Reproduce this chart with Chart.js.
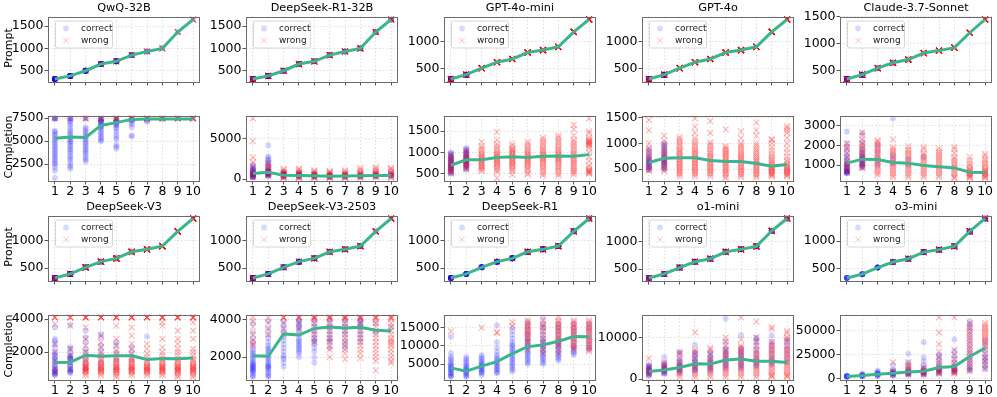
<!DOCTYPE html>
<html>
<head>
<meta charset="utf-8">
<script src="https://cdn.jsdelivr.net/npm/chart.js@4.4.0/dist/chart.umd.min.js"></script>
<style>
  body { margin: 0; background: #fff; width: 997px; height: 397px; overflow: hidden; position: relative; font-family: 'DejaVu Sans', sans-serif; }
  canvas { position: absolute; }
  .title { position: absolute; font-size: 11.3px; color: #000; white-space: nowrap; transform: translate(-50%, -50%); }
  .ylab { position: absolute; font-size: 11px; color: #000; white-space: nowrap; transform: translate(-50%, -50%) rotate(-90deg); }
</style>
</head>
<body>
<script>
// x categories (difficulty level)
const levels = [1, 2, 3, 4, 5, 6, 7, 8, 9, 10];

// ---- QwQ-32B ----
const qwqPrompt = [320, 390, 505, 655, 715, 855, 935, 1005, 1370, 1650];
const qwqMean = [5300, 5450, 5400, 6700, 7000, 7350, 7400, 7400, 7400, 7400];
const qwqCorrect = [
  [7450, 7450, 7450, 7450, 6100, 6000, 5800, 5600, 5400, 5200, 5000, 4800, 4600, 4400, 4200, 4000, 3800, 3600, 3400, 3200, 3000, 2800, 2600, 2400, 2100, 1800, 1000],
  [7450, 7450, 7450, 7200, 7000, 6800, 6500, 6200, 6000, 5800, 5600, 5400, 5200, 5000, 4900, 4700, 4500, 4300, 4100, 3900, 3700, 3400, 3200, 3000, 2700, 2400, 2200, 2000],
  [7450, 7450, 6500, 6300, 6100, 5900, 5700, 5500, 5300, 5100, 4900, 4700, 4500, 4300, 4100, 3900, 3700, 3500, 3200, 3000, 2800],
  [7450, 7450, 7400, 7300, 7200, 7100, 7000, 6900, 6800, 6700, 6600, 6500, 6300, 6100, 5900, 5700, 5500, 5300, 5100, 5000],
  [7450, 7400, 7300, 7200, 7100, 7000, 6900, 6800, 6700, 6500, 6300, 6000, 5700, 5400, 5200, 4600, 4400, 4200],
  [7450, 7400, 7300, 7200, 7000, 6800, 6500, 5600, 5500],
  [7450, 7400, 7200, 7100],
  [7450, 7400],
  [7450],
  [7450]
];
const qwqWrong = [
  [7450], [7450], [7450, 7450], [7450, 7450, 7450], [7450, 7450, 7450, 7450],
  [7450, 7450, 7450, 7450], [7450, 7450, 7450, 7450], [7450, 7450, 7450, 7450],
  [7450, 7450, 7450, 7450], [7450, 7450, 7450, 7450]
];
const qwqPromptTicks = [500, 1000, 1500];
const qwqCompTicks = [2500, 5000, 7500];

// ---- DeepSeek-R1-32B ----
const r132Prompt = [320, 390, 505, 655, 715, 855, 935, 1005, 1370, 1650];
const r132Mean = [700, 850, 500, 450, 420, 380, 400, 420, 450, 460];
const r132Correct = [
  [1800, 1600, 1400, 1300, 1200, 1100, 1000, 900, 800, 700, 650, 600, 550, 500, 450, 400, 350, 300, 250, 200],
  [4200, 2800, 2600, 2400, 2200, 2000, 1800, 1600, 1400, 1200, 1100, 1000, 950, 900, 850, 800, 750, 700, 650, 600, 550, 500, 450, 400],
  [900, 800, 700, 650, 600, 550, 500, 450, 400, 350, 300],
  [800, 700, 600, 550, 500, 450, 400, 350, 300],
  [700, 600, 500, 450, 400, 350, 300],
  [600, 500, 450, 400, 350, 300, 250],
  [600, 500, 450, 400, 350, 300],
  [600, 500, 450, 400, 350, 300],
  [700, 600, 500, 450, 400, 350],
  [700, 600, 500, 450, 400]
];
const r132Wrong = [
  [7500, 4700, 2700, 2100, 1500, 1200, 900, 700, 500, 400, 300],
  [2000, 1800, 1500, 1300, 1100, 950, 850, 750, 650, 550, 450],
  [1300, 1100, 950, 800, 700, 600, 500, 400, 300, 200, 150],
  [1300, 1200, 1000, 850, 700, 600, 500, 400, 300, 200, 150],
  [1100, 950, 850, 700, 600, 500, 400, 300, 200, 150],
  [1000, 900, 800, 700, 600, 500, 400, 300, 200, 150],
  [1100, 950, 800, 700, 600, 500, 400, 300, 200, 150],
  [1400, 1200, 1000, 850, 700, 600, 500, 400, 300, 200],
  [1500, 1300, 1100, 950, 800, 650, 550, 450, 350, 250],
  [1400, 1300, 1100, 900, 750, 600, 500, 400, 300, 200]
];
const r132PromptTicks = [500, 1000, 1500];
const r132CompTicks = [0, 5000];

// ---- GPT-4o-mini ----
const miniPrompt = [310, 390, 510, 620, 680, 800, 845, 905, 1180, 1410];
const miniMean = [700, 830, 830, 880, 900, 880, 910, 920, 910, 950];
const miniCorrect = [
  [1000, 980, 950, 920, 900, 880, 860, 840, 820, 800, 780, 760, 740, 720, 700, 680, 660, 640, 620, 600, 580, 560, 540, 520, 500],
  [1100, 1080, 1050, 1020, 1000, 970, 950, 920, 900, 880, 860, 840, 820, 800, 780, 760, 740, 720, 700, 680, 650, 620, 600],
  [], [], [], [], [], [], [], []
];
const miniWrong = [
  [950, 900, 860, 820, 780, 750, 720, 690, 660, 630, 600, 570, 540, 510],
  [1050, 1000, 960, 920, 880, 850, 820, 790, 760, 730, 700, 670, 640, 610],
  [1250, 1150, 1100, 1050, 1000, 960, 930, 900, 870, 840, 810, 780, 750, 720, 690, 660, 630, 600, 560],
  [1480, 1300, 1200, 1150, 1100, 1050, 1000, 970, 940, 910, 880, 850, 820, 790, 760, 730, 700, 660, 620, 580, 540, 400],
  [1200, 1150, 1100, 1070, 1040, 1010, 980, 950, 920, 890, 860, 830, 800, 770, 740, 710, 680, 640, 600, 560, 480],
  [1250, 1200, 1150, 1100, 1060, 1020, 980, 950, 920, 890, 860, 830, 800, 770, 740, 700, 660, 620, 580, 520, 480],
  [1350, 1300, 1250, 1200, 1150, 1100, 1060, 1020, 980, 950, 920, 890, 860, 830, 800, 760, 720, 680, 640, 600, 550, 500, 450],
  [1400, 1350, 1300, 1250, 1200, 1150, 1100, 1060, 1020, 980, 950, 920, 890, 860, 830, 800, 760, 720, 680, 640, 600, 550, 500, 450],
  [1650, 1550, 1400, 1300, 1250, 1200, 1150, 1100, 1050, 1000, 960, 920, 880, 840, 800, 760, 720, 680, 640, 600, 560, 520, 480],
  [1800, 1500, 1450, 1350, 1300, 1280, 1260, 1240, 1220, 1200, 1180, 1150, 1100, 1000, 900, 800, 700, 650, 600, 580, 560, 540, 520, 500]
];
const miniPromptTicks = [500, 1000];
const miniCompTicks = [500, 1000, 1500];

// ---- GPT-4o ----
const gpt4oPrompt = [310, 390, 510, 620, 680, 800, 845, 905, 1180, 1410];
const gpt4oMean = [630, 710, 720, 720, 670, 650, 650, 610, 560, 590];
const gpt4oCorrect = [
  [900, 850, 800, 760, 720, 700, 680, 660, 640, 620, 600, 580, 560, 540, 520, 500, 480],
  [1000, 970, 940, 900, 870, 840, 810, 780, 750, 720, 700, 680, 660, 640, 620, 600, 580, 550, 520, 500],
  [], [], [], [], [], [], [], []
];
const gpt4oWrong = [
  [1450, 1250, 1000, 900, 850, 800, 750, 700, 650, 600, 550, 500, 470],
  [1150, 1050, 980, 920, 870, 820, 780, 740, 700, 660, 620, 580, 540, 500, 460],
  [1120, 1080, 1040, 1000, 960, 920, 880, 850, 820, 790, 760, 730, 700, 670, 640, 610, 580, 550, 520, 490, 460, 430, 400, 360],
  [1480, 1320, 1200, 1100, 1050, 1000, 960, 920, 880, 850, 820, 790, 760, 730, 700, 670, 640, 610, 580, 550, 520, 490, 460, 430, 400, 360],
  [1430, 1200, 1020, 980, 940, 900, 860, 820, 790, 760, 730, 700, 670, 640, 610, 580, 550, 520, 490, 460, 430, 400, 360],
  [1270, 940, 910, 880, 850, 820, 790, 760, 730, 700, 670, 640, 610, 580, 550, 520, 490, 460, 430, 400, 360, 330],
  [1230, 1100, 1000, 960, 920, 880, 840, 800, 770, 740, 710, 680, 650, 620, 590, 560, 530, 500, 470, 440, 410, 380, 350],
  [1400, 1250, 1150, 1000, 950, 900, 860, 820, 780, 740, 700, 670, 640, 610, 580, 550, 520, 490, 460, 430, 400, 370, 340],
  [1080, 1060, 1000, 920, 860, 800, 760, 720, 680, 650, 620, 590, 560, 540, 520, 500, 480, 460, 440, 420, 400, 380, 360],
  [1330, 1300, 1250, 1200, 1100, 1000, 900, 820, 740, 680, 640, 600, 570, 540, 520, 500, 480, 460, 440, 420, 400, 380, 360]
];
const gpt4oPromptTicks = [500, 1000];
const gpt4oCompTicks = [500, 1000, 1500];

// ---- Claude-3.7-Sonnet ----
const claudePrompt = [350, 430, 550, 650, 710, 830, 875, 930, 1205, 1450];
const claudeMean = [1100, 1300, 1280, 1130, 1100, 980, 920, 860, 640, 630];
const claudeCorrect = [
  [2700, 2100, 1900, 1700, 1500, 1400, 1300, 1200, 1100, 1050, 1000, 950, 900, 850, 800, 750, 720, 700, 680, 660, 640, 620, 600, 580],
  [2600, 2200, 2000, 1800, 1700, 1600, 1500, 1450, 1400, 1350, 1300, 1250, 1200, 1150, 1100, 1050, 1000, 950, 900, 850],
  [2000, 1700, 1400, 1200, 1000],
  [3350, 1500, 1300, 1100],
  [1300, 1000],
  [1400],
  [], [], [], []
];
const claudeWrong = [
  [2100, 1900, 1800, 1600, 1400, 1200, 1100, 1000, 900, 800, 700, 650],
  [2650, 2500, 2300, 2100, 2000, 1900, 1800, 1700, 1600, 1500, 1400, 1300, 1200, 1100, 1000, 900, 850],
  [2250, 2200, 2100, 2000, 1900, 1800, 1700, 1600, 1500, 1400, 1300, 1200, 1100, 1000, 900, 800, 700, 600, 500],
  [2300, 1900, 1800, 1700, 1600, 1500, 1400, 1300, 1200, 1100, 1000, 900, 800, 700, 600, 500, 400],
  [1950, 1800, 1700, 1600, 1500, 1400, 1300, 1200, 1100, 1000, 900, 800, 700, 600, 500, 400],
  [1900, 1800, 1600, 1500, 1400, 1300, 1200, 1100, 1000, 900, 800, 700, 600, 500, 400],
  [1850, 1700, 1600, 1500, 1400, 1300, 1200, 1100, 1000, 900, 800, 700, 600, 500, 400],
  [1900, 1800, 1600, 1400, 1300, 1200, 1100, 1000, 900, 800, 700, 600, 500, 400, 350],
  [1400, 1250, 1100, 1000, 900, 800, 750, 700, 650, 600, 550, 500, 450, 400, 350],
  [1550, 1450, 1300, 1200, 1100, 1000, 900, 800, 750, 700, 650, 600, 550, 500, 450, 400, 350]
];
const claudePromptTicks = [500, 1000, 1500];
const claudeCompTicks = [1000, 2000, 3000];

// ---- DeepSeek-V3 ----
const v3Prompt = [320, 395, 515, 620, 680, 800, 845, 905, 1175, 1410];
const v3Mean = [1380, 1400, 1820, 1760, 1780, 1780, 1560, 1620, 1600, 1650];
const v3Correct = [
  [3500, 2800, 2700, 2500, 2300, 2000, 1900, 1800, 1700, 1600, 1500, 1400, 1300, 1200, 1100, 1000, 950, 900, 850, 800, 750, 700, 650, 600],
  [3650, 2300, 2200, 2000, 1800, 1750, 1700, 1650, 1600, 1500, 1400, 1300, 1200, 1100, 1000, 950, 900, 850, 800, 750],
  [3300, 2900, 2600, 2200, 2000, 1600, 1300, 1000],
  [3100, 2900, 2400, 2100, 1800, 1400],
  [2600, 2400, 2000, 1500],
  [2300, 2000, 1500],
  [2950],
  [], [], []
];
const v3Wrong = [
  [4100, 4100, 4100, 3700, 2500, 2000, 1500, 1000, 800],
  [4100, 4100, 4100, 3600, 2200, 1800, 1400, 1000],
  [4100, 4100, 4100, 4100, 3500, 2800, 2400, 2000, 1800, 1600, 1500, 1400, 1300, 1200, 1150, 1100, 1050, 1000, 950, 900, 850, 800, 700, 600],
  [4100, 4100, 4100, 4100, 3000, 2600, 2300, 2000, 1800, 1600, 1500, 1400, 1300, 1200, 1150, 1100, 1050, 1000, 950, 900, 850, 800, 700, 600],
  [4100, 4100, 4100, 4100, 3600, 2800, 2400, 2100, 1900, 1700, 1600, 1500, 1400, 1300, 1200, 1150, 1100, 1050, 1000, 950, 900, 850, 800, 700, 600, 500],
  [4100, 4100, 4100, 4100, 3500, 3000, 2500, 2200, 1900, 1700, 1600, 1500, 1400, 1300, 1200, 1150, 1100, 1050, 1000, 950, 900, 850, 800, 700, 600],
  [4100, 4100, 4100, 4100, 2500, 2200, 1900, 1700, 1500, 1400, 1300, 1200, 1150, 1100, 1050, 1000, 950, 900, 850, 800, 700, 600],
  [4100, 4100, 4100, 4100, 3800, 3600, 2800, 2300, 2000, 1800, 1600, 1500, 1400, 1300, 1200, 1150, 1100, 1050, 1000, 950, 900, 850, 800, 700, 600],
  [4100, 4100, 4100, 4100, 3300, 2800, 2500, 2200, 2000, 1800, 1600, 1500, 1400, 1300, 1200, 1150, 1100, 1050, 1000, 950, 900, 850, 800, 700, 600, 500],
  [4100, 4100, 4100, 4100, 3800, 3300, 2800, 2200, 2000, 1800, 1600, 1500, 1400, 1300, 1200, 1150, 1100, 1050, 1000, 950, 900, 850, 800, 700, 600, 500]
];
const v3PromptTicks = [500, 1000];
const v3CompTicks = [2000, 4000];

// ---- DeepSeek-V3-2503 ----
const v3nPrompt = [320, 395, 515, 620, 680, 800, 845, 905, 1175, 1410];
const v3nMean = [2080, 2050, 3230, 3170, 3520, 3600, 3540, 3580, 3420, 3380];
const v3nCorrect = [
  [3800, 3300, 3000, 2800, 2600, 2400, 2300, 2200, 2100, 2000, 1900, 1800, 1700, 1650, 1600, 1550, 1500, 1450, 1400, 1350, 1300, 1250, 1200, 1100, 1000, 950],
  [3900, 3500, 3200, 3000, 2800, 2600, 2500, 2400, 2300, 2200, 2100, 2000, 1900, 1800, 1700, 1600, 1550, 1500, 1450, 1400, 1300, 1200, 1100, 1000, 950],
  [3900, 3700, 3500, 3300, 3100, 2900, 2700, 2500, 2300, 2100, 2000, 1900, 1700, 1500],
  [4000, 3900, 3800, 3700, 3600, 3500, 3400, 3200, 3000, 2900, 2800, 2700, 2600, 2500, 2400, 2300, 2200, 2000],
  [4000, 3800, 3600, 3400, 3200, 3000, 2900, 2800, 2700, 2500, 2300, 2000, 1700],
  [4000, 3800, 3600, 3400, 3200, 3000, 2900, 2800, 2500],
  [4000, 3800, 3600, 3400, 3200, 2900, 2700, 2500],
  [4000, 3900, 3800, 3700, 3600, 3400, 3200, 3000, 2800],
  [3800, 3300],
  [3600]
];
const v3nWrong = [
  [4100, 3900, 3600, 3200, 2900, 2700, 2600],
  [4100, 3800, 3500, 3200],
  [4100, 4100, 4100, 3800, 3500, 3200],
  [4100, 4100, 4100, 3800, 3500],
  [4100, 4100, 4100, 4000, 3800, 3600, 3400, 3200, 3000, 2800],
  [4100, 4100, 4100, 4000, 3800, 3600, 3400, 3200, 3000, 2800, 2600, 2400, 2000],
  [4100, 4100, 4100, 4000, 3800, 3600, 3400, 3200, 3000, 2800, 2600, 2400, 2200, 1900],
  [4100, 4100, 4100, 4000, 3800, 3600, 3400, 3200, 3000, 2800, 2600, 2400, 2200, 1950],
  [4100, 4100, 4100, 4000, 3800, 3600, 3400, 3200, 3000, 2800, 2600, 2400, 2200, 2000, 1800, 1300],
  [4100, 4100, 4100, 4000, 3800, 3600, 3400, 3200, 3000, 2900, 2800, 2700, 2600, 2400, 2200, 2000, 1800, 1700]
];
const v3nPromptTicks = [500, 1000];
const v3nCompTicks = [2000, 4000];

// ---- DeepSeek-R1 ----
const r1Prompt = [320, 395, 515, 620, 680, 800, 845, 905, 1175, 1410];
const r1Mean = [4000, 3100, 4500, 5700, 7900, 9800, 10300, 11300, 12600, 12500];
const r1Correct = [
  [12500, 8000, 7000, 6500, 6000, 5500, 5000, 4700, 4400, 4100, 3800, 3500, 3200, 2900, 2600, 2300, 2000, 1700, 1500],
  [7000, 6500, 6000, 5500, 5000, 4600, 4200, 3900, 3600, 3300, 3000, 2700, 2400, 2100, 1800, 1500],
  [7500, 7000, 6500, 6000, 5600, 5200, 4900, 4600, 4300, 4000, 3700, 3400, 3100, 2800, 2500, 2000],
  [15700, 11000, 9500, 8500, 7500, 7000, 6500, 6000, 5600, 5200, 4800, 4400, 4000, 3600, 3200, 2800, 2500],
  [15000, 14000, 13000, 12000, 11000, 10500, 10000, 9500, 9000, 8500, 8000, 7500, 7000, 6500, 6000, 5500, 5000, 4500, 4000, 3500, 3000],
  [16500, 15500, 14500, 13500, 13000, 12000, 11500, 11000, 10500, 10000, 9500, 9000, 8500, 8000, 7500, 7000, 6500, 6000, 5500, 5000],
  [17500, 16000, 15000, 14000, 13000, 12000, 11500, 11000, 10500, 10000, 9500, 9000, 8500, 8000, 7500, 7000, 6500, 6000, 5500, 5000],
  [16000, 15000, 14000, 13000, 12000, 11500, 11000, 10500, 10000, 9500, 9000, 8500, 8000, 7500, 7000, 6500, 6000],
  [16000, 15000, 14000, 13000, 12000, 11000, 10000, 9500, 9000, 8500, 8000, 7500],
  [16000, 15000, 14000, 12500, 11500, 10500, 9500, 9000]
];
const r1Wrong = [
  [14000],
  [],
  [15000],
  [13800, 13500],
  [16500, 15500],
  [17000, 16500, 16000, 15500, 15000, 14500, 14000, 13500, 13000, 12500, 12000, 11500, 11000, 10000, 9000],
  [17000, 16000, 15500, 15000, 14000, 13000, 12000, 11000, 10000, 9000, 8000],
  [17800, 17000, 16500, 16000, 15500, 15000, 14500, 14000, 13500, 13000, 12500, 12000, 11500, 11000, 10500, 10000, 9000, 8000],
  [17000, 16500, 16000, 15500, 15000, 14500, 14000, 13500, 13000, 12500, 12000, 11500, 11000, 10500, 10000, 9500, 9000],
  [17000, 16500, 16000, 15500, 15000, 14500, 14000, 13500, 13000, 12500, 12000, 11500, 11000, 10500, 10000, 9500, 9000, 8500]
];
const r1PromptTicks = [500, 1000];
const r1CompTicks = [5000, 10000, 15000];

// ---- o1-mini ----
const o1Prompt = [340, 415, 530, 635, 690, 815, 860, 915, 1195, 1420];
const o1Mean = [1800, 2200, 2800, 3700, 3600, 4600, 4800, 4300, 4300, 4000];
const o1Correct = [
  [3500, 3200, 3000, 2800, 2600, 2400, 2200, 2000, 1800, 1600, 1400, 1200, 1000, 800],
  [5300, 4000, 3600, 3300, 3000, 2800, 2600, 2400, 2200, 2000, 1800, 1600, 1400, 1200],
  [6500, 6200, 5000, 4500, 4000, 3600, 3300, 3000, 2700, 2400, 2100, 1800, 1500],
  [8200, 6500, 6000, 5500, 5000, 4600, 4200, 3800, 3400, 3000, 2600, 2200, 2000],
  [6500, 6000, 5500, 5000, 4500, 4000, 3600, 3200, 2800, 2400, 2000],
  [14500, 9000, 7500, 7000, 6500, 6000, 5500, 5000, 4500, 4000, 3500, 3000, 2500],
  [10600, 7500, 7000, 6500, 6000, 5500, 5000, 4500, 4000, 3500, 3000, 2500],
  [10000, 9500, 9000, 8000, 7000, 6000, 5000, 4500, 4000, 3500, 3000],
  [10500, 9000, 8000, 7000, 6000, 5000, 4500, 4000, 3500],
  [9500, 9000, 8000, 7000, 6000, 5000, 4000]
];
const o1Wrong = [
  [5000, 3000, 2500, 2000, 1500, 1000],
  [4000, 3500, 3000, 2500, 2000, 1500],
  [6500, 6000, 5000, 4000, 3500, 3000, 2500, 2000, 1500, 1000, 500],
  [11200, 7000, 6500, 6000, 5000, 4000, 3500, 3000, 2500, 2000, 1500, 1000, 500],
  [7500, 7000, 6000, 5000, 4500, 4000, 3500, 3000, 2500, 2000, 1500, 1000, 500],
  [10000, 9000, 8000, 7000, 6500, 6000, 5500, 5000, 4500, 4000, 3500, 3000, 2500, 2000, 1500, 1000, 500],
  [14800, 9500, 8000, 7500, 7000, 6500, 6000, 5500, 5000, 4500, 4000, 3500, 3000, 2500, 2000, 1500, 1000, 500],
  [13800, 10000, 9000, 8000, 7000, 6500, 6000, 5500, 5000, 4500, 4000, 3500, 3000, 2500, 2000, 1500, 1000, 500],
  [12500, 12000, 9000, 8500, 8000, 7500, 7000, 6500, 6000, 5500, 5000, 4500, 4000, 3500, 3000, 2500, 2000, 1500, 1000, 800, 500],
  [11500, 11000, 10000, 9500, 9000, 8000, 7500, 7000, 6500, 6000, 5500, 5000, 4500, 4000, 3500, 3000, 2500, 2000, 1500, 1000, 800, 500]
];
const o1PromptTicks = [500, 1000];
const o1CompTicks = [0, 10000];

// ---- o3-mini ----
const o3Prompt = [330, 400, 520, 620, 680, 800, 845, 905, 1175, 1410];
const o3Mean = [2000, 3000, 4500, 5500, 6800, 7500, 11500, 12500, 23000, 32000];
const o3Correct = [
  [3000, 2700, 2500, 2300, 2100, 1900, 1700, 1500],
  [5000, 4500, 4000, 3600, 3200, 2800, 2500, 2200, 2000],
  [8000, 7000, 6000, 5500, 5000, 4500, 4000, 3500, 3000, 2500],
  [14000, 9000, 8000, 7000, 6500, 6000, 5500, 5000, 4500, 4000, 3500, 3000],
  [26000, 17000, 14000, 11000, 9000, 8000, 7000, 6500, 6000, 5500, 5000, 4500, 4000],
  [38000, 22000, 18000, 14000, 11000, 9500, 8500, 7500, 7000, 6500, 6000, 5000, 4500, 4000],
  [25000, 23000, 20000, 16000, 13000, 11000, 10000, 9000, 8000, 7000, 6000, 5000],
  [41000, 29000, 24000, 20000, 16000, 13000, 11000, 10000, 9000, 8000, 7000, 6000],
  [60000, 57000, 54000, 50000, 45000, 40000, 35000, 30000, 26000, 22000, 19000, 16000, 13000, 11000, 9000, 8000],
  [40000, 35000, 30000, 25000, 22000, 20000, 18000, 15000, 12000, 10000]
];
const o3Wrong = [
  [], [], [],
  [17000, 8000, 6000, 4000],
  [17000, 14000, 12000, 10000, 8000, 6000, 5000, 4000],
  [12000, 10000, 8000, 7000, 6000, 5000, 4000],
  [64000, 48000, 36000, 28000, 22000, 18000, 15000, 12000, 10000, 8000, 7000, 6000, 5000],
  [64000, 30000, 25000, 20000, 16000, 13000, 11000, 9000, 8000, 7000, 6000, 5000],
  [58000, 55000, 52000, 49000, 46000, 43000, 40000, 37000, 34000, 31000, 28000, 25000, 22000, 19000, 16000, 13000, 10000, 8000],
  [58000, 56000, 54000, 52000, 50000, 48000, 46000, 44000, 42000, 40000, 38000, 36000, 34000, 30000, 26000, 22000, 18000, 14000, 10000]
];
const o3PromptTicks = [500, 1000];
const o3CompTicks = [0, 25000, 50000];

const panels = [
  { name: 'QwQ-32B', prompt: qwqPrompt, mean: qwqMean, correct: qwqCorrect, wrong: qwqWrong, pTicks: qwqPromptTicks, cTicks: qwqCompTicks },
  { name: 'DeepSeek-R1-32B', prompt: r132Prompt, mean: r132Mean, correct: r132Correct, wrong: r132Wrong, pTicks: r132PromptTicks, cTicks: r132CompTicks },
  { name: 'GPT-4o-mini', prompt: miniPrompt, mean: miniMean, correct: miniCorrect, wrong: miniWrong, pTicks: miniPromptTicks, cTicks: miniCompTicks },
  { name: 'GPT-4o', prompt: gpt4oPrompt, mean: gpt4oMean, correct: gpt4oCorrect, wrong: gpt4oWrong, pTicks: gpt4oPromptTicks, cTicks: gpt4oCompTicks },
  { name: 'Claude-3.7-Sonnet', prompt: claudePrompt, mean: claudeMean, correct: claudeCorrect, wrong: claudeWrong, pTicks: claudePromptTicks, cTicks: claudeCompTicks },
  { name: 'DeepSeek-V3', prompt: v3Prompt, mean: v3Mean, correct: v3Correct, wrong: v3Wrong, pTicks: v3PromptTicks, cTicks: v3CompTicks },
  { name: 'DeepSeek-V3-2503', prompt: v3nPrompt, mean: v3nMean, correct: v3nCorrect, wrong: v3nWrong, pTicks: v3nPromptTicks, cTicks: v3nCompTicks },
  { name: 'DeepSeek-R1', prompt: r1Prompt, mean: r1Mean, correct: r1Correct, wrong: r1Wrong, pTicks: r1PromptTicks, cTicks: r1CompTicks },
  { name: 'o1-mini', prompt: o1Prompt, mean: o1Mean, correct: o1Correct, wrong: o1Wrong, pTicks: o1PromptTicks, cTicks: o1CompTicks },
  { name: 'o3-mini', prompt: o3Prompt, mean: o3Mean, correct: o3Correct, wrong: o3Wrong, pTicks: o3PromptTicks, cTicks: o3CompTicks }
];

// layout
const colLeft = [48, 246, 444, 642, 840];
const rowTop = [14, 113, 213, 312];
const plotW = 152, plotH = 68;
const axisW = 46, axisH = 22, padT = 6, padR = 6;

const GREEN = '#3cb48c';
const BLUE = 'rgba(0, 0, 255, 0.17)';
const RED = 'rgba(255, 0, 0, 0.3)';
const FONT = "'DejaVu Sans', sans-serif";

// frame + in-plot legend
const framePlugin = {
  id: 'frame',
  afterDraw(chart, args, opts) {
    const { ctx, chartArea: a } = chart;
    ctx.save();
    ctx.strokeStyle = '#6b6b6b';
    ctx.lineWidth = 1;
    ctx.strokeRect(Math.round(a.left) + 0.5, Math.round(a.top) + 0.5,
      Math.round(a.right - a.left) - 1, Math.round(a.bottom - a.top) - 1);
    if (opts.legend) {
      const x = a.left + 7, y = a.top + 4;
      ctx.beginPath();
      ctx.roundRect(x + 0.5, y + 0.5, 57, 27, 2);
      ctx.fillStyle = 'rgba(255,255,255,0.8)';
      ctx.fill();
      ctx.strokeStyle = '#d6d6d6';
      ctx.stroke();
      ctx.fillStyle = 'rgba(0,0,255,0.15)';
      ctx.beginPath();
      ctx.arc(x + 11, y + 8, 3, 0, Math.PI * 2);
      ctx.fill();
      ctx.strokeStyle = 'rgba(255,0,0,0.25)';
      ctx.beginPath();
      ctx.moveTo(x + 8, y + 17); ctx.lineTo(x + 14, y + 23);
      ctx.moveTo(x + 14, y + 17); ctx.lineTo(x + 8, y + 23);
      ctx.stroke();
      ctx.fillStyle = '#222';
      ctx.font = '9px ' + FONT;
      ctx.textBaseline = 'middle';
      ctx.fillText('correct', x + 26, y + 8);
      ctx.fillText('wrong', x + 26, y + 20);
    }
    ctx.restore();
  }
};

function yRange(vals) {
  const lo = Math.min(...vals), hi = Math.max(...vals);
  const pad = (hi - lo) * 0.05;
  return [lo - pad, hi + pad];
}

function drawPanel(p, kind, col, row) {
  const cv = document.createElement('canvas');
  const cw = axisW + plotW + padR, ch = padT + plotH + axisH;
  cv.width = cw; cv.height = ch;
  cv.style.left = (colLeft[col] - axisW) + 'px';
  cv.style.top = (rowTop[row] - padT) + 'px';
  cv.style.width = cw + 'px';
  cv.style.height = ch + 'px';
  document.body.appendChild(cv);

  let corrPts = [], wrongPts = [], linePts, allY, ticks;
  if (kind === 'prompt') {
    levels.forEach((lv, i) => {
      p.correct[i].forEach(() => corrPts.push({ x: lv, y: p.prompt[i] }));
      p.wrong[i].forEach(() => wrongPts.push({ x: lv, y: p.prompt[i] }));
    });
    linePts = levels.map((lv, i) => ({ x: lv, y: p.prompt[i] }));
    allY = p.prompt;
    ticks = p.pTicks;
  } else {
    levels.forEach((lv, i) => {
      p.correct[i].forEach(v => corrPts.push({ x: lv, y: v }));
      p.wrong[i].forEach(v => wrongPts.push({ x: lv, y: v }));
    });
    linePts = levels.map((lv, i) => ({ x: lv, y: p.mean[i] }));
    allY = [...corrPts.map(d => d.y), ...wrongPts.map(d => d.y), ...p.mean];
    ticks = p.cTicks;
  }
  const [ymin, ymax] = yRange(allY);

  new Chart(cv, {
    type: 'scatter',
    data: {
      datasets: [
        { type: 'line', data: linePts, borderColor: GREEN, borderWidth: 3, pointRadius: 0, tension: 0, order: 0 },
        { data: corrPts, pointStyle: 'circle', pointRadius: 3, backgroundColor: BLUE, borderWidth: 0, order: 2 },
        { data: wrongPts, pointStyle: 'crossRot', pointRadius: 4.2, borderColor: RED, borderWidth: 1.1, order: 1 }
      ]
    },
    options: {
      responsive: false,
      animation: false,
      events: [],
      layout: { padding: { top: padT, right: padR, left: 0, bottom: 0 } },
      plugins: { legend: { display: false }, tooltip: { enabled: false }, frame: { legend: kind === 'prompt' } },
      scales: {
        x: {
          type: 'linear', min: 0.55, max: 10.45,
          afterBuildTicks: s => { s.ticks = levels.map(v => ({ value: v })); },
          afterFit: s => { s.height = axisH; },
          ticks: {
            autoSkip: false, maxRotation: 0, minRotation: 0,
            padding: 0, color: '#000', font: { family: FONT, size: 12.5 },
            callback: v => kind === 'prompt' ? '' : String(v)
          },
          grid: { color: 'rgba(0,0,0,0.13)', tickColor: '#555', tickLength: 3.5, lineWidth: 1 },
          border: { display: false, dash: [1.5, 2] }
        },
        y: {
          min: ymin, max: ymax,
          afterBuildTicks: s => { s.ticks = ticks.map(v => ({ value: v })); },
          afterFit: s => { s.width = axisW; },
          ticks: {
            autoSkip: false,
            padding: 1, color: '#000', font: { family: FONT, size: 12.5 },
            callback: v => String(v)
          },
          grid: { color: 'rgba(0,0,0,0.13)', tickColor: '#555', tickLength: 3.5, lineWidth: 1 },
          border: { display: false, dash: [1.5, 2] }
        }
      }
    },
    plugins: [framePlugin]
  });
}

function addDiv(cls, text, x, y) {
  const d = document.createElement('div');
  d.className = cls;
  d.textContent = text;
  d.style.left = x + 'px';
  d.style.top = y + 'px';
  document.body.appendChild(d);
}

panels.forEach((p, i) => {
  const col = i % 5, grp = Math.floor(i / 5);
  drawPanel(p, 'prompt', col, grp * 2);
  drawPanel(p, 'completion', col, grp * 2 + 1);
  addDiv('title', p.name, colLeft[col] + plotW / 2, rowTop[grp * 2] - 7);
});
for (let g = 0; g < 2; g++) {
  addDiv('ylab', 'Prompt', 7.5, rowTop[g * 2] + plotH / 2);
  addDiv('ylab', 'Completion', 7.5, rowTop[g * 2 + 1] + plotH / 2);
}
</script>
</body>
</html>
